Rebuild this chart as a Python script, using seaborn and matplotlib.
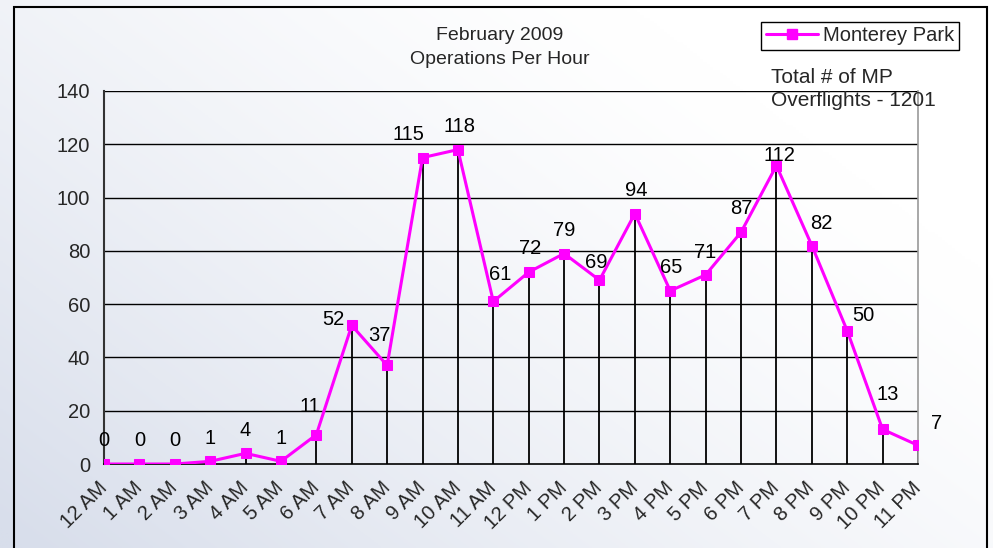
import numpy as np
import pandas as pd
import matplotlib
matplotlib.use("Agg")
import matplotlib.pyplot as plt
import seaborn as sns
from matplotlib.patches import Rectangle
from matplotlib.colors import to_rgb
from matplotlib.lines import Line2D

# ---- data ----
hours = ["12 AM", "1 AM", "2 AM", "3 AM", "4 AM", "5 AM", "6 AM", "7 AM", "8 AM",
         "9 AM", "10 AM", "11 AM", "12 PM", "1 PM", "2 PM", "3 PM", "4 PM", "5 PM",
         "6 PM", "7 PM", "8 PM", "9 PM", "10 PM", "11 PM"]
operations = [0, 0, 0, 1, 4, 1, 11, 52, 37, 115, 118, 61, 72, 79, 69, 94, 65, 71,
              87, 112, 82, 50, 13, 7]
series_name = "Monterey Park"
title_text = "February 2009\nOperations Per Hour"
note_text = "Total # of MP\nOverflights - 1201"
y_ticks = [0, 20, 40, 60, 80, 100, 120, 140]

# label offsets (pixels) relative to each marker -- styling only
label_dx = [0, 0, 0, 0, 0, 0, -6, -18, -8, -14, 2, 7, 1, 0, -3, 1, 1, -1, 0, 3, 9, 16, 5, 19]
label_dy = [24, 24, 24, 23, 23, 23, 28, 6, 30, 23, 23, 27, 24, 23, 18, 23, 23, 22, 24, 10, 22, 15, 35, 22]

df = pd.DataFrame({"hour": hours, "ops": operations, "pos": np.arange(len(hours))})

sns.set_theme(style="white")
plt.rcParams["font.family"] = ["Liberation Sans", "DejaVu Sans"]
FS = 14.5
MAG = "#FF00FF"

W, H = 993, 548
fig = plt.figure(figsize=(W / 100, H / 100), dpi=100)

# background gradient
bg = fig.add_axes([0, 0, 1, 1], zorder=-10)
xx, yy = np.meshgrid(np.linspace(0, 1, 300), np.linspace(0, 1, 200))
f = np.clip(0.75 * (1 - xx) + 0.55 * yy - 0.28, 0, 1) ** 1.3
c0 = np.array([1.0, 1.0, 1.0])
c1 = np.array(to_rgb("#d8deeb"))
img = c0[None, None, :] * (1 - f[..., None]) + c1[None, None, :] * f[..., None]
bg.imshow(img, aspect="auto", extent=[0, 1, 0, 1], origin="upper")
bg.set_axis_off()

# chart frame
fig.patches.append(Rectangle((14 / W, -0.05), (987 - 14) / W, 1 - 7 / H + 0.05,
                             transform=fig.transFigure, fill=False,
                             edgecolor="black", linewidth=1.5, zorder=-5))

ax = fig.add_axes([104 / W, 1 - 464 / H, (918 - 104) / W, (464 - 91) / H])
ax.set_facecolor("none")

# drop lines
ax.vlines(df["pos"], 0, df["ops"], color="black", linewidth=1.3, zorder=2)

sns.lineplot(data=df, x="pos", y="ops", ax=ax, color=MAG, linewidth=2.2,
             marker="s", markersize=7.5, markeredgecolor=MAG, markerfacecolor=MAG,
             zorder=4, legend=False)

for i, (p, v) in enumerate(zip(df["pos"], df["ops"])):
    ax.annotate(str(v), (p, v), xytext=(label_dx[i], label_dy[i]),
                textcoords="offset pixels", ha="center", va="center",
                fontsize=FS, color="black", zorder=5)

ax.set_xlim(0, len(hours) - 1)
ax.set_ylim(0, 140)
ax.set_yticks(y_ticks)
ax.set_yticklabels([str(t) for t in y_ticks], fontsize=FS)
ax.set_xticks(df["pos"])
ax.set_xticklabels(hours, fontsize=FS, rotation=45, ha="right",
                   va="center", rotation_mode="anchor")
ax.tick_params(axis="y", direction="out", length=6, width=1, color="black", pad=4)
ax.tick_params(axis="x", direction="out", length=5, width=1, color="#555555", pad=10)
ax.set_xlabel("")
ax.set_ylabel("")
for t in y_ticks[1:]:
    ax.axhline(t, color="black", linewidth=1.0, zorder=1)
ax.spines["top"].set_visible(False)
ax.spines["right"].set_color("#999999")
ax.spines["right"].set_linewidth(1.2)
ax.spines["left"].set_color("#333333")
ax.spines["left"].set_linewidth(1.5)
ax.spines["bottom"].set_color("black")
ax.spines["bottom"].set_linewidth(1.2)

# title
fig.text(500 / W, 1 - 47.5 / H, title_text, ha="center", va="center",
         fontsize=14, linespacing=1.55)
# note
fig.text(771 / W, 1 - 89 / H, note_text, ha="left", va="center",
         fontsize=15, linespacing=1.25)

# legend
h = Line2D([0], [0], color=MAG, linewidth=2.2, marker="s", markersize=7.5,
           markerfacecolor=MAG, markeredgecolor=MAG)
leg = fig.legend([h], [series_name], loc="upper right",
                 bbox_to_anchor=(959 / W, 1 - 22 / H), fontsize=FS,
                 frameon=True, fancybox=False, framealpha=1, edgecolor="black",
                 borderpad=0.22, handlelength=2.6, handletextpad=0.25,
                 borderaxespad=0)
leg.get_frame().set_linewidth(1.0)
leg.get_frame().set_facecolor("white")

fig.savefig("out.png", dpi=100)
